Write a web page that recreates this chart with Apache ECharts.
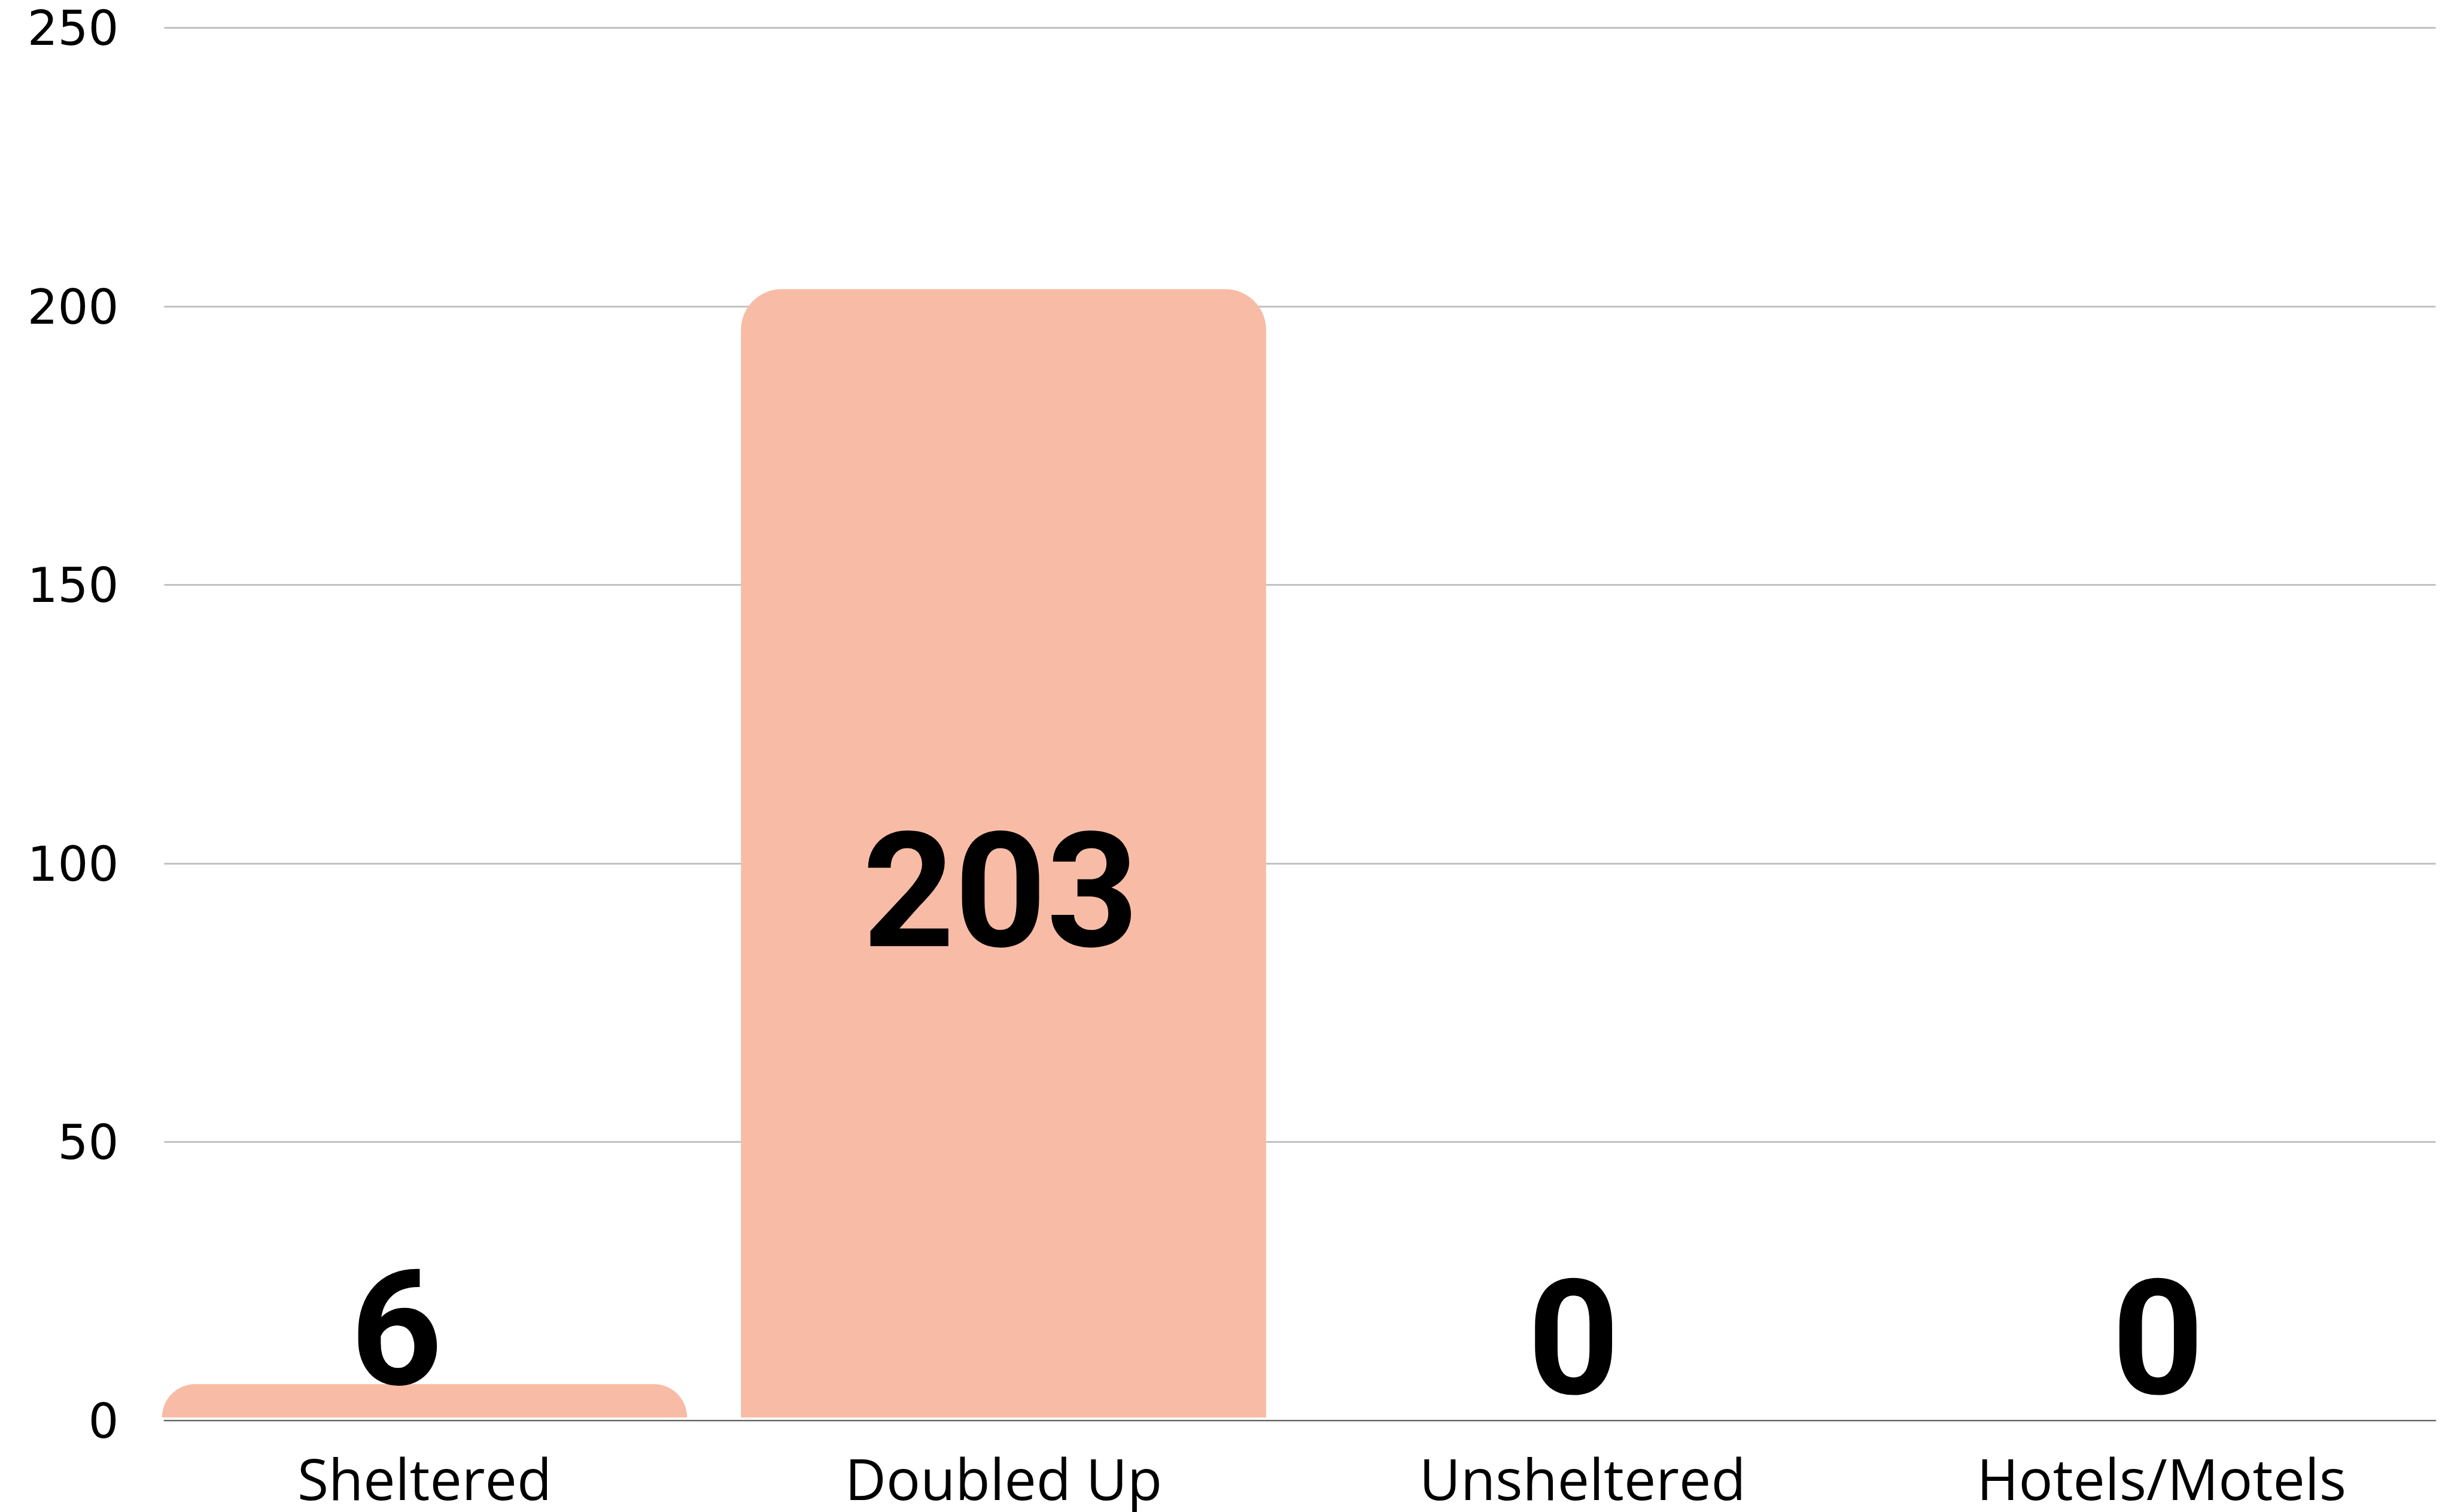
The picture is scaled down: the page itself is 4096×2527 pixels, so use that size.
<!DOCTYPE html>
<html><head><meta charset="utf-8">
<script src="https://cdn.jsdelivr.net/npm/echarts@6/dist/echarts.min.js"></script>
<style>html,body{margin:0;padding:0;background:#fff;overflow:hidden}#c{width:4096px;height:2527px}</style>
</head><body><div id="c"></div>
<script>
const categories = ['Sheltered', 'Doubled Up', 'Unsheltered', 'Hotels/Motels'];
const values = [6, 203, 0, 0];
const yMin = 0, yMax = 250, yStep = 50;

// label nudges (style only)
const labelDx = [-47, -5, -15, -6];

const BAR = '#F8BCA6';
const chart = echarts.init(document.getElementById('c'), null, {renderer: 'canvas'});

const data = values.map((v, i) => {
  if (v === 0) return {value: v, label: {position: 'top', distance: -27, offset: [labelDx[i], 0]}};
  if (v > 100) return {value: v, label: {position: 'inside', offset: [labelDx[i], 88]}};
  return {value: v, label: {position: 'top', distance: -67, offset: [labelDx[i], 0]}};
});

chart.setOption({
  animation: false,
  backgroundColor: '#ffffff',
  grid: [
    {left: 274.4, width: 3796, top: 46.7, bottom: 153, containLabel: false},
    {left: 225.7, width: 3894, top: 46.7, bottom: 153, containLabel: false}
  ],
  xAxis: [
    {gridIndex: 0, type: 'category', data: categories, boundaryGap: true, z: 5,
     axisLine: {show: true, lineStyle: {color: '#666666', width: 2}},
     axisTick: {show: false}, axisLabel: {show: false}, splitLine: {show: false}},
    {gridIndex: 1, type: 'category', data: categories, boundaryGap: true,
     axisLine: {show: false}, axisTick: {show: false}, splitLine: {show: false},
     axisLabel: {show: true, color: '#000', fontFamily: 'Open Sans', fontSize: 95, margin: 63}}
  ],
  yAxis: [
    {gridIndex: 0, type: 'value', min: yMin, max: yMax, interval: yStep, z: 0,
     axisLine: {show: false}, axisTick: {show: false},
     splitLine: {show: true, lineStyle: {color: '#C2C2C2', width: 3}},
     axisLabel: {show: true, margin: 76, formatter: '{t|{value}}',
       rich: {t: {color: '#000', fontFamily: 'DejaVu Sans', fontSize: 80, padding: [16, 0, 0, 0]}}}},
    {gridIndex: 1, type: 'value', min: yMin, max: yMax, interval: yStep, show: false,
     splitLine: {show: false}}
  ],
  series: [{
    type: 'bar', xAxisIndex: 1, yAxisIndex: 1, data: data,
    barWidth: 877.6,
    itemStyle: {color: BAR, borderRadius: [68, 68, 0, 0]},
    label: {show: true, color: '#000', fontFamily: 'Roboto', fontWeight: 'bold', fontSize: 268}
  }]
});
</script></body></html>
